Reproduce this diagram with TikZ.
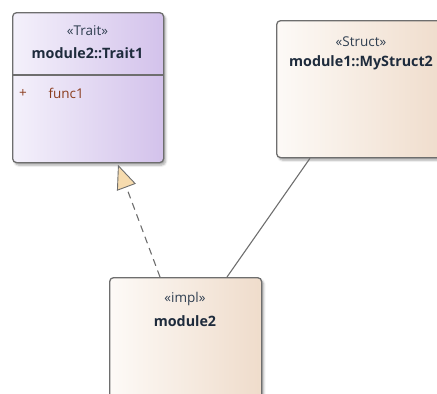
\documentclass[tikz,border=0pt]{standalone}
\usepackage{fontspec}
\setmainfont{Open Sans}
\usetikzlibrary{arrows.meta,shadows.blur,positioning}
\definecolor{edgegrey}{HTML}{6E6E6E}
\definecolor{traitL}{HTML}{F4F1FB}
\definecolor{traitR}{HTML}{D3C2EB}
\definecolor{structL}{HTML}{FDFAF7}
\definecolor{structR}{HTML}{EFDCCB}
\definecolor{namecol}{HTML}{1E2B3C}
\definecolor{stereocol}{HTML}{2F3E50}
\definecolor{opcol}{HTML}{8A3B1C}
\definecolor{tipfill}{HTML}{F6DBAE}
\tikzset{
  umlbox/.style={draw=edgegrey, line width=1.3pt, rounded corners=4pt, anchor=north west,
    inner sep=0pt,
    blur shadow={shadow xshift=2pt, shadow yshift=-2.5pt, shadow blur steps=6, shadow opacity=35}},
  traitbox/.style={umlbox, left color=traitL, right color=traitR},
  structbox/.style={umlbox, left color=structL, right color=structR},
  stereo/.style={font=\fontsize{13.5}{15}\selectfont, text=stereocol},
  elname/.style={font=\fontsize{14.3}{16}\selectfont\bfseries, text=namecol},
  member/.style={font=\fontsize{13.5}{15}\selectfont, text=opcol},
  conn/.style={draw=edgegrey, line width=1.1pt},
}
\begin{document}
\begin{tikzpicture}[x=1pt,y=-1pt]
\useasboundingbox (0,0) rectangle (437,394);
% trait element
\node[traitbox, minimum width=151pt, minimum height=150pt] (trait) at (12,12) {};
\draw[edgegrey, line width=1.1pt] ([yshift=-63pt]trait.north west) -- ([yshift=-63pt]trait.north east);
\node[stereo] (traitst) at (87.5,31) {«Trait»};
\node[elname] (traitnm) at (87.5,53) {module2::Trait1};
\node[member] (fplus) at (23,93) {+};
\node[member, anchor=west] (fname) at (45,93) {func1};
% struct element
\node[structbox, minimum width=170pt, minimum height=137pt] (struct) at (276,20) {};
\node[stereo] (structst) at (361,42) {«Struct»};
\node[elname] (structnm) at (361,63) {module1::MyStruct2};
% impl element
\node[structbox, minimum width=152pt, minimum height=125pt] (impl) at (109,277) {};
\node[stereo] (implst) at (185,299) {«impl»};
\node[elname] (implnm) at (185,321) {module2};
% realization of the trait
\draw[conn, dashed, dash pattern=on 7pt off 5pt,
  -{Triangle[length=24pt, width=20pt, fill=tipfill, line width=0.9pt]}]
  ([xshift=51pt]impl.north west) -- ([xshift=106pt,yshift=-1.5pt]trait.south west);
% association to the struct
\draw[conn] ([xshift=118pt]impl.north west) -- ([xshift=34pt]struct.south west);
\end{tikzpicture}
\end{document}
